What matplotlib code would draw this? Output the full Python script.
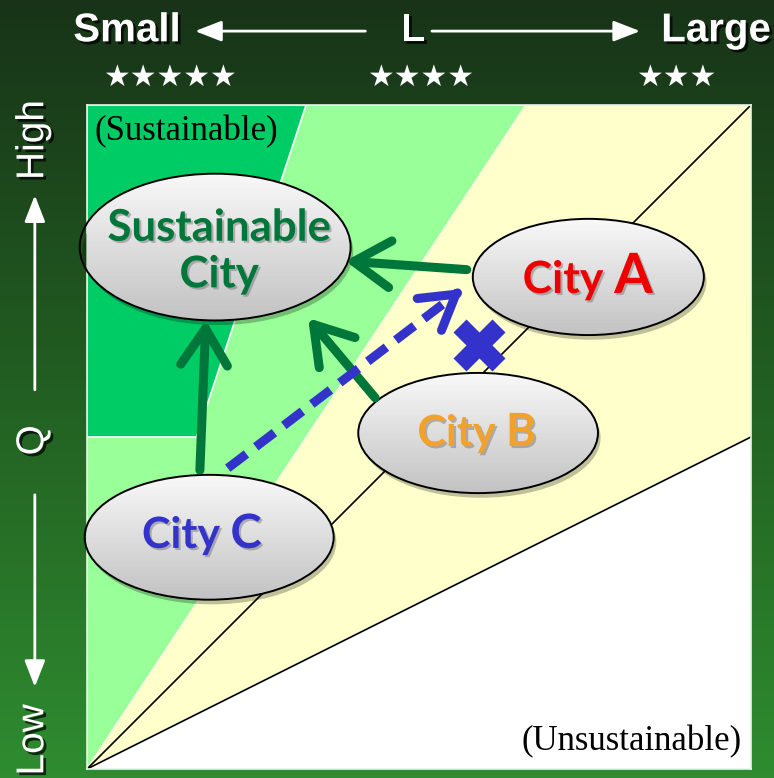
import numpy as np
import matplotlib
matplotlib.use('Agg')
import matplotlib.pyplot as plt
import matplotlib.patheffects as pe
from matplotlib.patches import Polygon, Ellipse, Rectangle, FancyArrowPatch
from matplotlib.colors import LinearSegmentedColormap
from matplotlib.offsetbox import TextArea, HPacker, AnnotationBbox

# zonas do diagrama (L no eixo x, Q no eixo y, normalizados 0..1)
zone_dark_x = [0.0, 0.165, 0.33, 0.0]
zone_dark_y = [0.5, 0.5, 1.0, 1.0]
zone_light_x = [0.0, 0.0, 0.661]
zone_light_y = [0.0, 1.0, 1.0]
zone_yellow_x = [0.0, 0.661, 1.0, 1.0]
zone_yellow_y = [0.0, 1.0, 1.0, 0.5]
line_end_x = [1.0, 1.0]
line_end_y = [1.0, 0.5]

# cidades
sust_x, sust_y, sust_w, sust_h = 0.193, 0.786, 0.408, 0.221
sust_text_xy = (0.199, 0.780)
city_letters = ['A', 'B', 'C']
city_x = [0.755, 0.589, 0.184]
city_y = [0.741, 0.506, 0.349]
city_w = [0.348, 0.361, 0.375]
city_h = [0.175, 0.181, 0.188]
city_text_x = [0.754, 0.587, 0.173]
city_text_y = [0.741, 0.506, 0.354]
city_word_size = [32, 31, 31]
city_letter_size = [40, 33, 34]
city_colors = ['#EE0000', '#F2A22A', '#3333CC']

# setas verdes (A, B, C -> Sustainable City)
green_from_x = [0.572, 0.434, 0.170]
green_from_y = [0.752, 0.559, 0.450]
green_to_x = [0.389, 0.333, 0.179]
green_to_y = [0.765, 0.679, 0.676]

# seta azul tracejada (C -> A) e o X
blue_from = (0.212, 0.453)
blue_to = (0.566, 0.723)
cross_xy = (0.590, 0.639)

# rótulos externos
top_labels = ['Small', 'L', 'Large']
top_label_x = [0.164, 0.534, 0.925]
star_labels = ['★★★★★', '★★★★', '★★★']
star_x = [0.220, 0.543, 0.873]
side_labels = ['High', 'Q', 'Low']
side_label_y = [0.820, 0.434, 0.049]

GREEN = '#00773A'
BLUE = '#3333CC'

fig = plt.figure(figsize=(7.74, 7.78), dpi=100)

# fundo em degradê verde
bg = fig.add_axes([0, 0, 1, 1])
bg_cmap = LinearSegmentedColormap.from_list('bg', ['#2f8c30', '#225f22', '#183318'])
grad = np.linspace(0, 1, 256).reshape(-1, 1)
bg.imshow(grad, aspect='auto', cmap=bg_cmap, extent=[0, 1, 0, 1], origin='lower')
bg.set_xlim(0, 1)
bg.set_ylim(0, 1)
bg.axis('off')

shadow = [pe.withSimplePatchShadow(offset=(2, -2), shadow_rgbFace='black', alpha=0.7)]

# rótulos do topo
for lab, x in zip(top_labels, top_label_x):
    bg.text(x, 0.961, lab, color='white', fontsize=29, fontweight='bold',
            family='Liberation Sans', ha='center', va='center', path_effects=shadow)
for s, x in zip(star_labels, star_x):
    bg.text(x, 0.900, s, color='white', fontsize=21.5, family='DejaVu Sans',
            ha='center', va='center')
arrow_kw = dict(arrowstyle='-|>,head_length=0.9,head_width=0.35', color='white', lw=2,
                mutation_scale=18, shrinkA=0, shrinkB=0)
bg.annotate('', xy=(0.252, 0.960), xytext=(0.472, 0.960), arrowprops=arrow_kw)
bg.annotate('', xy=(0.827, 0.960), xytext=(0.558, 0.960), arrowprops=arrow_kw)

# rótulos laterais
for lab, y in zip(side_labels, side_label_y):
    bg.text(0.043, y, lab, color='white', fontsize=28, family='Liberation Sans',
            rotation=90, ha='center', va='center', path_effects=shadow)
bg.annotate('', xy=(0.045, 0.749), xytext=(0.045, 0.499), arrowprops=arrow_kw)
bg.annotate('', xy=(0.045, 0.117), xytext=(0.045, 0.364), arrowprops=arrow_kw)

# área principal
ax = fig.add_axes([0.1124, 0.01157, 0.8579, 0.8535])
ax.set_facecolor('white')
ax.add_patch(Polygon(np.column_stack([zone_light_x, zone_light_y]), closed=True,
                     facecolor='#99FF99', edgecolor='white', lw=1.2, zorder=1))
ax.add_patch(Polygon(np.column_stack([zone_yellow_x, zone_yellow_y]), closed=True,
                     facecolor='#FFFFCC', edgecolor='none', zorder=1))
ax.add_patch(Polygon(np.column_stack([zone_dark_x, zone_dark_y]), closed=True,
                     facecolor='#00CC66', edgecolor='white', lw=1.2, zorder=1))
for ex, ey in zip(line_end_x, line_end_y):
    ax.plot([0, ex], [0, ey], color='black', lw=1.2, zorder=2)

gray_cmap = LinearSegmentedColormap.from_list('gr', ['#c2c2c2', '#f8f8f8'])


def draw_ellipse(x, y, w, h):
    # sombra, preenchimento em degradê (faixas recortadas) e contorno
    sh = Ellipse((x + 0.004, y - 0.007), w, h, facecolor='black', alpha=0.25,
                 edgecolor='none', zorder=3, clip_on=False)
    ax.add_patch(sh)
    el = Ellipse((x, y), w, h, facecolor='none', edgecolor='black', lw=1.4, zorder=5,
                 clip_on=False)
    ax.add_patch(el)
    n = 60
    edges = np.linspace(y - h / 2, y + h / 2, n + 1)
    for i in range(n):
        band = Rectangle((x - w / 2, edges[i]), w, edges[i + 1] - edges[i] + 0.001,
                         facecolor=gray_cmap(i / (n - 1)), edgecolor='none', zorder=4)
        ax.add_patch(band)
        band.set_clip_path(el)


draw_ellipse(sust_x, sust_y, sust_w, sust_h)
txt_shadow = [pe.withSimplePatchShadow(offset=(1.5, -1.5), shadow_rgbFace='#777777', alpha=0.5)]
ax.text(*sust_text_xy, 'Sustainable\nCity', color=GREEN, fontsize=31.5,
        fontweight='bold', family='Lato', ha='center', va='center', linespacing=1.2,
        zorder=6, path_effects=txt_shadow)

for i, letter in enumerate(city_letters):
    draw_ellipse(city_x[i], city_y[i], city_w[i], city_h[i])
    c = city_colors[i]
    t1 = TextArea('City ', textprops=dict(color=c, fontsize=city_word_size[i], fontweight='bold',
                                          family='Lato', path_effects=txt_shadow))
    t2 = TextArea(letter, textprops=dict(color=c, fontsize=city_letter_size[i], fontweight='bold',
                                         family='Lato', path_effects=txt_shadow))
    box = HPacker(children=[t1, t2], align='baseline', pad=0, sep=0)
    ab = AnnotationBbox(box, (city_text_x[i], city_text_y[i]), frameon=False,
                        box_alignment=(0.5, 0.5), zorder=6)
    ax.add_artist(ab)

# setas verdes
for fx, fy, tx, ty in zip(green_from_x, green_from_y, green_to_x, green_to_y):
    ax.add_patch(FancyArrowPatch((fx, fy), (tx, ty), arrowstyle='->,head_length=1.1,head_width=0.7',
                                 mutation_scale=24, color=GREEN, lw=6.5, capstyle='round',
                                 joinstyle='round', shrinkA=0, shrinkB=0, zorder=7))

# seta azul tracejada
dx, dy = blue_to[0] - blue_from[0], blue_to[1] - blue_from[1]
ax.plot([blue_from[0], blue_to[0] - 0.02 * dx], [blue_from[1], blue_to[1] - 0.02 * dy],
        color=BLUE, lw=6.5, dashes=(2.6, 1.3), solid_capstyle='butt', zorder=7)
ax.add_patch(FancyArrowPatch((blue_to[0] - 0.03 * dx, blue_to[1] - 0.03 * dy), blue_to,
                             arrowstyle='->,head_length=1.0,head_width=0.6', mutation_scale=24,
                             color=BLUE, lw=6.5, capstyle='round', joinstyle='round',
                             shrinkA=0, shrinkB=0, zorder=7))
ax.plot(*cross_xy, marker='X', markersize=37, color=BLUE, mec='none', zorder=7)

# textos das zonas
ax.text(0.012, 0.959, '(Sustainable)', family='Liberation Serif', fontsize=25,
        ha='left', va='center', zorder=6)
ax.text(0.986, 0.041, '(Unsustainable)', family='Liberation Serif', fontsize=25,
        ha='right', va='center', zorder=6)

ax.set_xlim(0, 1)
ax.set_ylim(0, 1)
ax.set_xticks([])
ax.set_yticks([])
for sp in ax.spines.values():
    sp.set_color('#e8f5e8')
    sp.set_linewidth(1.2)

fig.savefig('out.png', dpi=100)
